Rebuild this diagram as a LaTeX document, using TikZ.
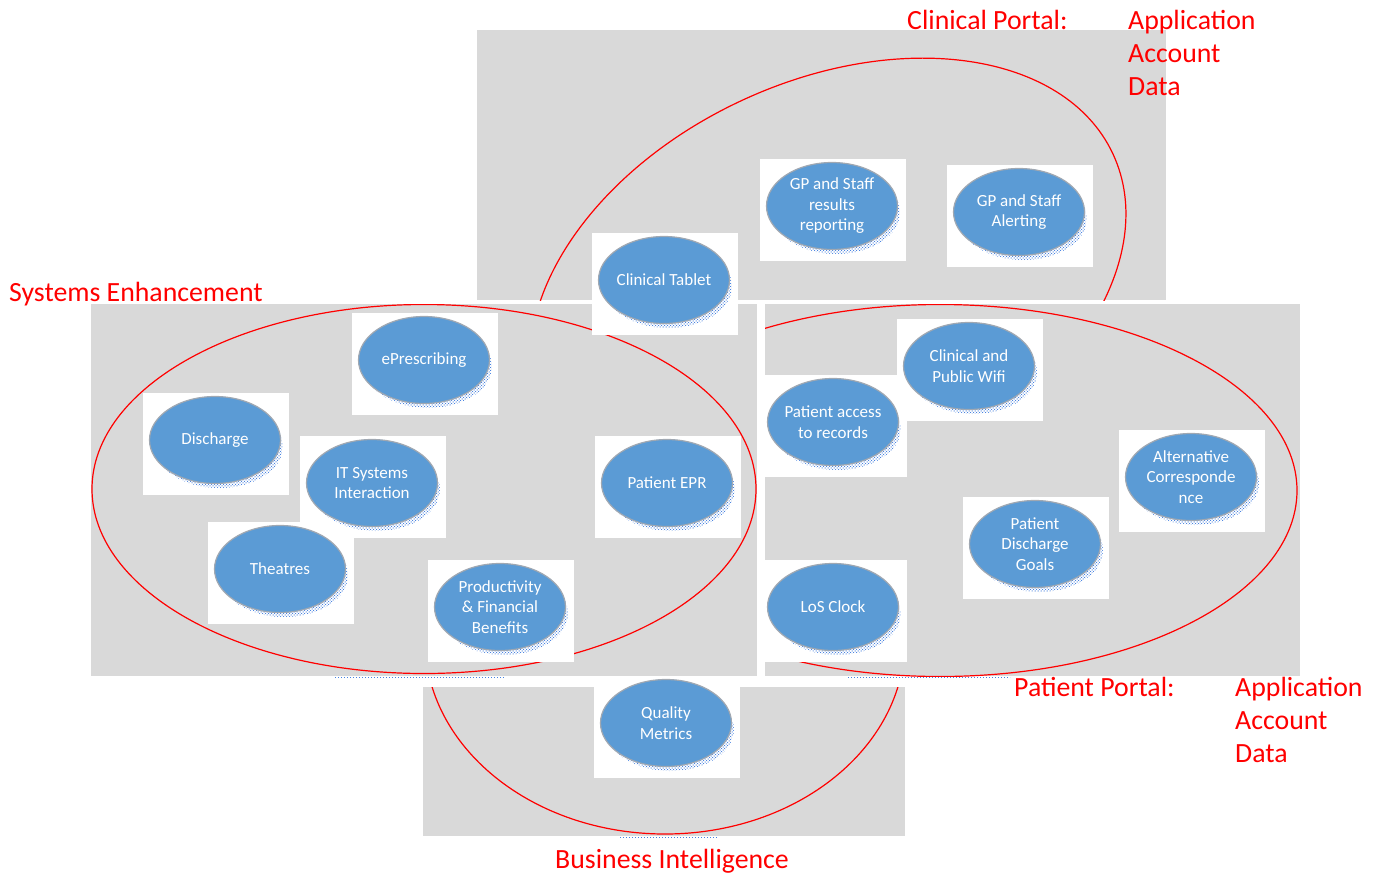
\documentclass[tikz,border=0pt]{standalone}
\usepackage{fontspec}
\setmainfont{Carlito}
\usetikzlibrary{shapes.geometric,patterns}

\definecolor{panelgray}{RGB}{217,217,217}
\definecolor{bubbleblue}{RGB}{91,155,213}
\definecolor{bubbleedge}{RGB}{160,168,178}
\definecolor{shadowblue}{RGB}{70,130,225}
\definecolor{labelred}{RGB}{255,0,0}

\tikzset{
  panel/.style={fill=panelgray, draw=none},
  ring/.style={draw=labelred, line width=1.2pt},
  card/.style={fill=white, draw=none},
  dropshade/.style={pattern=crosshatch dots, pattern color=shadowblue},
  bubble/.style={ellipse, fill=bubbleblue, draw=bubbleedge, line width=1.2pt,
                 minimum width=131pt, minimum height=87pt, inner sep=0pt},
  bubbletext/.style={text=white, align=center, inner sep=0pt,
                     font=\fontsize{17}{20.5}\selectfont},
  redlabel/.style={text=labelred, inner sep=0pt, anchor=base west,
                   font=\fontsize{27.8}{33}\selectfont},
  fringe/.style={draw=shadowblue, line width=1pt, dash pattern=on 1pt off 2pt},
}

% name / centre x / centre y / caption
\def\bubblelist{%
  ct/664/280/{Clinical Tablet},
  gpr/832/206/{GP and Staff\\results\\reporting},
  gpa/1019/212/{GP and Staff\\Alerting},
  epr/424/360/{ePrescribing},
  dis/215/440/{Discharge},
  the/280/569/{Theatres},
  its/372/483/{IT Systems\\Interaction},
  pfb/500/607/{Productivity\\\& Financial\\Benefits},
  pepr/667/483/{Patient EPR},
  par/833/422/{Patient access\\to records},
  wifi/969/366/{Clinical and\\Public Wifi},
  alt/1191/477/{Alternative\\Corresponde\\nce},
  pdg/1035/544/{Patient\\Discharge\\Goals},
  los/833/607/{LoS Clock},
  qm/666/723/{Quality\\Metrics}%
}

\begin{document}
\begin{tikzpicture}[x=1pt, y=-1pt]
  \useasboundingbox (0,0) rectangle (1379,876);

  % grey areas
  \fill[panel] (477,30) rectangle (1166,300);
  \fill[panel] (91,304) rectangle (757,676);
  \fill[panel] (765,304) rectangle (1300,676);
  \fill[panel] (423,687) rectangle (905,836);

  % red boundaries, each kept inside its own area
  \begin{scope}
    \clip (477,30) rectangle (1166,300);
    \draw[ring, rotate around={25:(828,286.8)}]
      (828,286.8) ellipse [x radius=314.4, y radius=205.3];
  \end{scope}
  \begin{scope}
    \clip (91,304) rectangle (757,676);
    \draw[ring] (424,489) ellipse [x radius=332, y radius=184.5];
  \end{scope}
  \begin{scope}
    \clip (765,304) rectangle (1300,676);
    \draw[ring] (940,490.5) ellipse [x radius=357, y radius=186];
  \end{scope}
  \begin{scope}
    \clip (423,687) rectangle (905,836);
    \draw[ring] (665,640) ellipse [x radius=240, y radius=194];
  \end{scope}

  % faint dotted fringes left below the areas
  \draw[fringe] (335,677.5) -- (505,677.5);
  \draw[fringe] (848,677.5) -- (1010,677.5);
  \draw[fringe] (620,837.5) -- (717,837.5);

  % white cards behind the bubbles
  \foreach \n/\x/\y/\t in \bubblelist {
    \fill[card] (\x-72,\y-47) rectangle (\x+74,\y+55);
  }
  % dotted drop shadows
  \foreach \n/\x/\y/\t in \bubblelist {
    \fill[dropshade] (\x+4,\y+6) ellipse [x radius=64, y radius=42];
    \fill[dropshade] (\x+5.5,\y+7.5) ellipse [x radius=62, y radius=40];
  }
  % bubbles with their captions
  \foreach \n/\x/\y/\t in \bubblelist {
    \node[bubble] (\n) at (\x,\y) {};
    \node[bubbletext] (\n-text) at (\n.center) {\t};
  }

  % area titles
  \node[redlabel] (cpt) at (907,29.5) {Clinical Portal:};
  \node[redlabel] (cpa) at (1128,29.5) {Application};
  \node[redlabel] (cpb) at (1128,62.5) {Account};
  \node[redlabel] (cpc) at (1128,95.5) {Data};
  \node[redlabel] (se) at (9,301.5) {Systems Enhancement};
  \node[redlabel] (ppt) at (1014,696) {Patient Portal:};
  \node[redlabel] (ppa) at (1235,696) {Application};
  \node[redlabel] (ppb) at (1235,729) {Account};
  \node[redlabel] (ppc) at (1235,762) {Data};
  \node[redlabel] (bi) at (555,868.5) {Business Intelligence};
\end{tikzpicture}
\end{document}
